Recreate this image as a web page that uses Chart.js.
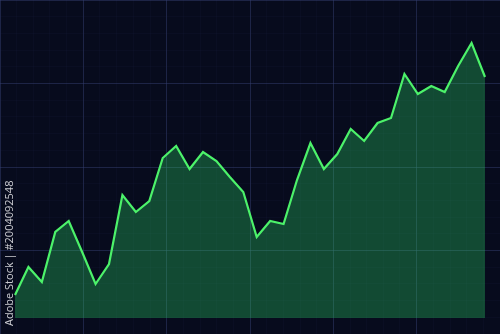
<!DOCTYPE html>
<html>
<head>
<meta charset="utf-8">
<script src="https://cdn.jsdelivr.net/npm/chart.js@4.4.1/dist/chart.umd.min.js"></script>
<style>
  html, body { margin: 0; padding: 0; background: #070b1d; }
  #wrap { width: 500px; height: 334px; }
</style>
</head>
<body>
<div id="wrap"><canvas id="priceChart" width="500" height="334"></canvas></div>
<script>
// price series (one point per step)
const steps = [0,1,2,3,4,5,6,7,8,9,10,11,12,13,14,15,16,17,18,19,20,21,22,23,24,25,26,27,28,29,30,31,32,33,34,35];
const prices = [23, 51, 36, 86, 97, 66, 34, 54, 123, 106, 117, 160, 172, 149, 166, 157, 141, 126, 81, 97,
                94, 138, 175, 149, 164, 189, 177, 195, 200, 244, 224, 232, 226, 252, 275, 241];
const watermark = 'Adobe Stock | #2004092548';

const xMin = -1.117, xMax = 36.117;
const yMin = -16, yMax = 318;

// evenly spaced grid, a brighter line every 5th
const gridTicks = (min, max, n) => {
    const out = [];
    for (let k = 0; k <= n; k++) out.push({ value: min + k * (max - min) / n });
    return out;
};
const gridColor = (ctx) => (ctx.index % 5 === 0) ? 'rgba(52, 62, 112, 0.5)' : 'rgba(40, 48, 90, 0.1)';

const backdrop = {
    id: 'backdrop',
    beforeDraw(chart) {
        const c = chart.ctx;
        c.save();
        c.fillStyle = '#070b1d';
        c.fillRect(0, 0, chart.width, chart.height);
        c.restore();
    },
    afterDraw(chart) {
        const c = chart.ctx;
        c.save();
        c.translate(15, 326);
        c.rotate(-Math.PI / 2);
        c.font = '11px "Open Sans", "DejaVu Sans", sans-serif';
        c.fillStyle = 'rgba(220, 220, 225, 0.92)';
        c.textBaseline = 'bottom';
        c.fillText(watermark, 0, 0);
        c.restore();
    }
};

new Chart(document.getElementById('priceChart').getContext('2d'), {
    type: 'line',
    data: {
        datasets: [{
            data: steps.map((s, i) => ({ x: s, y: prices[i] })),
            borderColor: '#4cf26a',
            borderWidth: 2.2,
            backgroundColor: 'rgba(47, 221, 102, 0.3)',
            fill: 'origin',
            pointRadius: 0,
            tension: 0
        }]
    },
    options: {
        responsive: false,
        animation: false,
        layout: { padding: 0 },
        scales: {
            x: {
                type: 'linear',
                min: xMin,
                max: xMax,
                afterBuildTicks: (axis) => { axis.ticks = gridTicks(xMin, xMax, 30); },
                ticks: { display: false },
                grid: { color: gridColor, drawTicks: false, lineWidth: 1 },
                border: { display: false }
            },
            y: {
                min: yMin,
                max: yMax,
                afterBuildTicks: (axis) => { axis.ticks = gridTicks(yMin, yMax, 20); },
                ticks: { display: false },
                grid: { color: gridColor, drawTicks: false, lineWidth: 1 },
                border: { display: false }
            }
        },
        plugins: {
            legend: { display: false },
            tooltip: { enabled: false }
        }
    },
    plugins: [backdrop]
});
</script>
</body>
</html>
